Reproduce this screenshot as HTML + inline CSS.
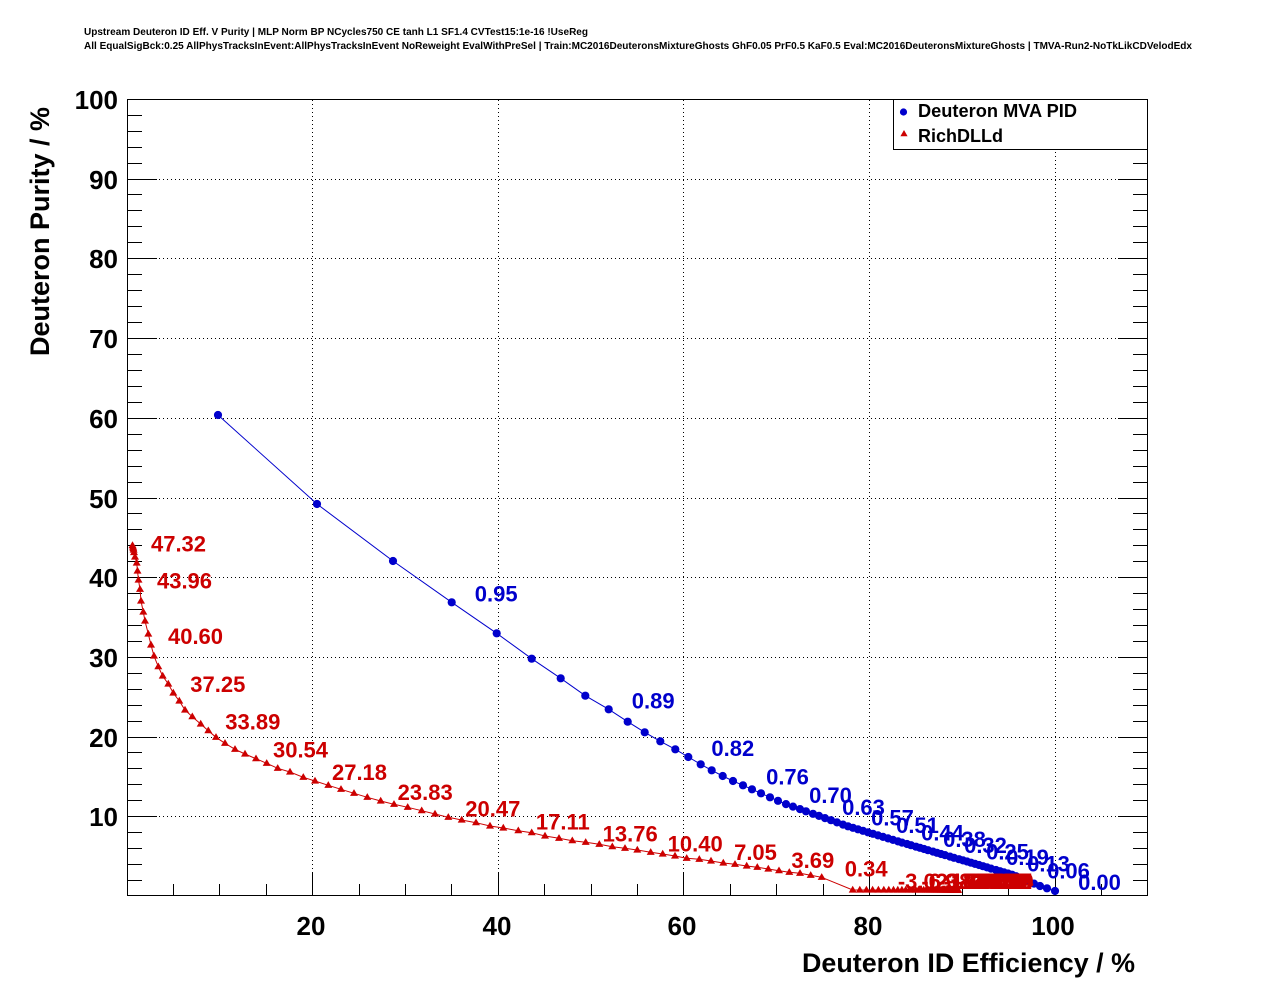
<!DOCTYPE html>
<html><head><meta charset="utf-8"><style>
html,body{margin:0;padding:0;background:#fff;overflow:hidden;}
svg{display:block;}
text{font-family:"Liberation Sans",Arial,Helvetica,sans-serif;font-weight:bold;}
</style></head><body>
<svg width="1276" height="996" viewBox="0 0 1276 996" xmlns="http://www.w3.org/2000/svg">
<defs>
<marker id="mc" markerUnits="userSpaceOnUse" markerWidth="10" markerHeight="10" refX="5" refY="5" overflow="visible"><circle cx="5" cy="5" r="4.1" fill="#0000cc"/></marker>
<marker id="mt" markerUnits="userSpaceOnUse" markerWidth="10" markerHeight="10" refX="5" refY="5" overflow="visible"><path d="M5,0.8 L9,7.6 L1,7.6 Z" fill="#cc0000"/></marker>
</defs>
<rect x="0" y="0" width="1276" height="996" fill="#fff"/>

<!-- titles -->
<text x="84" y="35" font-size="9.8" textLength="504" lengthAdjust="spacingAndGlyphs">Upstream Deuteron ID Eff. V Purity | MLP Norm BP NCycles750 CE tanh L1 SF1.4 CVTest15:1e-16 !UseReg</text>
<text x="84" y="49" font-size="9.8" textLength="1108" lengthAdjust="spacingAndGlyphs">All EqualSigBck:0.25 AllPhysTracksInEvent:AllPhysTracksInEvent NoReweight EvalWithPreSel | Train:MC2016DeuteronsMixtureGhosts GhF0.05 PrF0.5 KaF0.5 Eval:MC2016DeuteronsMixtureGhosts | TMVA-Run2-NoTkLikCDVelodEdx</text>

<!-- grid -->
<path fill="none" stroke="#000" stroke-width="1" stroke-dasharray="1 3" shape-rendering="crispEdges" d="M312.5,100V896 M498.5,100V896 M683.5,100V896 M869.5,100V896 M1055.5,100V896
M127,816.5H1148 M127,737.5H1148 M127,657.5H1148 M127,577.5H1148 M127,498.5H1148 M127,418.5H1148 M127,338.5H1148 M127,258.5H1148 M127,179.5H1148"/>

<!-- frame -->
<rect x="127.5" y="99.5" width="1020" height="796" fill="none" stroke="#000" stroke-width="1" shape-rendering="crispEdges"/>

<!-- ticks -->
<path fill="none" stroke="#000" stroke-width="1" shape-rendering="crispEdges" d="
M312.5,896V872 M498.5,896V872 M683.5,896V872 M869.5,896V872 M1055.5,896V872
M173.5,896V884 M219.5,896V884 M266.5,896V884 M359.5,896V884 M405.5,896V884 M451.5,896V884 M544.5,896V884 M591.5,896V884 M637.5,896V884 M730.5,896V884 M776.5,896V884 M823.5,896V884 M915.5,896V884 M962.5,896V884 M1008.5,896V884 M1101.5,896V884
M127,816.5H157 M127,737.5H157 M127,657.5H157 M127,577.5H157 M127,498.5H157 M127,418.5H157 M127,338.5H157 M127,258.5H157 M127,179.5H157
M127,880.5H142 M127,864.5H142 M127,848.5H142 M127,832.5H142 M127,800.5H142 M127,784.5H142 M127,768.5H142 M127,752.5H142 M127,721.5H142 M127,705.5H142 M127,689.5H142 M127,673.5H142 M127,641.5H142 M127,625.5H142 M127,609.5H142 M127,593.5H142 M127,561.5H142 M127,545.5H142 M127,529.5H142 M127,513.5H142 M127,482.5H142 M127,466.5H142 M127,450.5H142 M127,434.5H142 M127,402.5H142 M127,386.5H142 M127,370.5H142 M127,354.5H142 M127,322.5H142 M127,306.5H142 M127,290.5H142 M127,274.5H142 M127,242.5H142 M127,226.5H142 M127,210.5H142 M127,194.5H142 M127,163.5H142 M127,147.5H142 M127,131.5H142 M127,115.5H142
M1148,816.5H1118 M1148,737.5H1118 M1148,657.5H1118 M1148,577.5H1118 M1148,498.5H1118 M1148,418.5H1118 M1148,338.5H1118 M1148,258.5H1118 M1148,179.5H1118
M1148,880.5H1133 M1148,864.5H1133 M1148,848.5H1133 M1148,832.5H1133 M1148,800.5H1133 M1148,784.5H1133 M1148,768.5H1133 M1148,752.5H1133 M1148,721.5H1133 M1148,705.5H1133 M1148,689.5H1133 M1148,673.5H1133 M1148,641.5H1133 M1148,625.5H1133 M1148,609.5H1133 M1148,593.5H1133 M1148,561.5H1133 M1148,545.5H1133 M1148,529.5H1133 M1148,513.5H1133 M1148,482.5H1133 M1148,466.5H1133 M1148,450.5H1133 M1148,434.5H1133 M1148,402.5H1133 M1148,386.5H1133 M1148,370.5H1133 M1148,354.5H1133 M1148,322.5H1133 M1148,306.5H1133 M1148,290.5H1133 M1148,274.5H1133 M1148,242.5H1133 M1148,226.5H1133 M1148,210.5H1133 M1148,194.5H1133 M1148,163.5H1133 M1148,147.5H1133 M1148,131.5H1133 M1148,115.5H1133"/>

<!-- tick labels -->
<g font-size="26" fill="#000">
<text x="311" y="935" text-anchor="middle">20</text>
<text x="497" y="935" text-anchor="middle">40</text>
<text x="682" y="935" text-anchor="middle">60</text>
<text x="868" y="935" text-anchor="middle">80</text>
<text x="1053" y="935" text-anchor="middle">100</text>
<g text-anchor="end">
<text x="118" y="826">10</text>
<text x="118" y="747">20</text>
<text x="118" y="667">30</text>
<text x="118" y="587">40</text>
<text x="118" y="508">50</text>
<text x="118" y="428">60</text>
<text x="118" y="348">70</text>
<text x="118" y="268">80</text>
<text x="118" y="189">90</text>
<text x="118" y="109">100</text>
</g>
</g>

<!-- axis titles -->
<text x="802" y="972" font-size="27" textLength="333" lengthAdjust="spacingAndGlyphs">Deuteron ID Efficiency / %</text>
<text transform="translate(49,356) rotate(-90)" font-size="27" textLength="249" lengthAdjust="spacingAndGlyphs">Deuteron Purity / %</text>

<!-- blue series -->
<polyline fill="none" stroke="#0000cc" stroke-width="1" marker-start="url(#mc)" marker-mid="url(#mc)" marker-end="url(#mc)" points="218,415 317,504 393,561 451.7,602.3 496.7,633.3 531.7,658.7 560.7,678.3 585.3,695.7 608.7,709.3 627.7,721.7 644.7,732.3 660.3,741.3 675.3,749.3 688.3,757 700.7,764.3 711.7,770.3 722.7,776 733,781 743,785.3 752,789.3 761,793.3 770,797.3 778,800.8 786,804.1 793,806.6 800,809.1 806,811.3 813,813.8 819,815.9 825,818.1 831,820.2 837,822.4 843,824.6 848,826.3 853,827.8 858,829.3 863,830.8 868,832.3 873,833.8 878,835.4 883,836.9 888,838.4 893,839.9 898,841.4 902,842.6 907,844 911,845.2 916,846.7 920,847.8 924,849 928,850.2 933,851.6 937,852.8 941,854 945,855.1 950,856.6 954,857.8 959,859.2 963,860.4 967,861.5 971,862.7 975,863.9 979,865 983,866.2 987,867.4 991,868.6 996,870 1000,871.2 1004,872.4 1008,873.5 1012,874.7 1016,876.2 1020,877.8 1024,879.5 1029,881.5 1034,883.6 1040,886 1047,888.3 1055,891"/>
<g font-size="22" fill="#0000cc" text-anchor="middle">
<text x="496.2" y="601.3">0.95</text>
<text x="653.2" y="708.3">0.89</text>
<text x="732.8" y="756">0.82</text>
<text x="787.5" y="784.3">0.76</text>
<text x="830.5" y="803.1">0.70</text>
<text x="863.5" y="814.9">0.63</text>
<text x="892.5" y="825.3">0.57</text>
<text x="917.5" y="832.8">0.51</text>
<text x="942.5" y="840.4">0.44</text>
<text x="964.5" y="846.8">0.38</text>
<text x="985.5" y="853">0.32</text>
<text x="1007.5" y="859.4">0.25</text>
<text x="1027.5" y="865.2">0.19</text>
<text x="1048.5" y="871.4">0.13</text>
<text x="1068.5" y="878.5">0.06</text>
<text x="1099.5" y="890">0.00</text>
</g>

<!-- red series -->
<polyline fill="none" stroke="#cc0000" stroke-width="1" marker-start="url(#mt)" marker-mid="url(#mt)" marker-end="url(#mt)" points="132.5,545.5 133,547 133.3,548.5 133.6,550 134,552.5 135,557 136.7,563 137.5,571 138.5,580 140,589.3 141,601 143.3,612 145,621 148.3,634 151,645 154,656 158.3,666.7 162.7,676 168.3,684 173.3,693 179.3,701 185,710 192.3,716.7 200.7,724 208.3,730.7 216,737.3 225,743.3 235,749.3 245,754 256,758.7 266.7,763.3 277.7,768.3 290,772 303.3,777.3 315,781 328.3,785.3 341,789.3 354,793.3 367.3,797.3 380.7,801 394,804.3 407.7,807.3 421.7,810.7 435,814 448.3,817.3 461.7,820 476,822.7 490,826 503.3,828 518.3,830.7 531.7,832.7 545,836 559,838.3 572.3,840.7 585.7,842.3 599.3,844.3 612.3,846.7 625,848.3 637.3,850 650.7,852.3 662.7,854 675,856 686.7,858.3 699.3,859.3 711,861 723.3,863 735,864.3 746.7,866 757.3,867.3 768.3,869 779,870.7 789.3,872.3 800,873.3 810.7,875.3 821.7,877.3 852.7,890 859.8,890 866.4,890 872.6,890 878.4,890 883.8,890 888.8,890 893.5,890 897.8,890 901.9,890 905.7,890 909.3,890 912.6,890 915.7,890 918.5,890 921.2,890 923.7,890 926.1,890 928.3,890 930.3,890 932.2,890 934,890 935.6,890 937.2,890 938.6,890 939.9,890 941.2,890 942.4,890 943.4,890 944.5,890 945.4,890 946.3,890 947.1,890 947.9,890 948.6,890 949.3,890 949.9,890 950.5,890 951,890 951.5,890 952,890 952.5,890 952.9,890 953.3,890 953.6,890 953.9,890 954.3,890 954.6,890 954.8,890 955.1,890 955.3,890 955.5,890 955.7,890 955.9,890 956.1,890 956.3,890 956.4,890 956.6,890 956.7,890 956.8,890 957,890 957.1,890 957.2,890 957.3,890 957.4,890 957.5,890 957.6,890 957.7,890 957.8,890 957.9,890 958,890"/>
<g font-size="22" fill="#cc0000" text-anchor="middle">
<text x="178.5" y="551.5">47.32</text>
<text x="184.5" y="588.3">43.96</text>
<text x="195.5" y="644">40.60</text>
<text x="217.8" y="692">37.25</text>
<text x="252.8" y="729.7">33.89</text>
<text x="300.5" y="757.7">30.54</text>
<text x="359.5" y="780">27.18</text>
<text x="425.2" y="800">23.83</text>
<text x="492.8" y="816.3">20.47</text>
<text x="562.8" y="829.7">17.11</text>
<text x="630.2" y="841.3">13.76</text>
<text x="695.2" y="851.3">10.40</text>
<text x="755.5" y="860">7.05</text>
<text x="812.8" y="868">3.69</text>
<text x="866.2" y="876.3">0.34</text>
<text x="922.9" y="889">-3.02</text>
<text x="946.4" y="889">-6.38</text>
<text x="963" y="889">-9.73</text>
<text x="974.8" y="889">-13.09</text>
<text x="983.1" y="889">-16.44</text>
<text x="989" y="889">-19.80</text>
<text x="993.1" y="889">-23.15</text>
<text x="996" y="889">-26.51</text>
<text x="998.1" y="889">-29.87</text>
<text x="999.6" y="889">-33.22</text>
<text x="1000.6" y="889">-36.58</text>
<text x="1001.3" y="889">-39.93</text>
<text x="1001.9" y="889">-43.29</text>
<text x="1002.2" y="889">-46.64</text>
<text x="1002.5" y="889">-50.00</text>
</g>

<!-- legend -->
<rect x="893.5" y="99.5" width="254" height="50" fill="#fff" stroke="#000" stroke-width="1" shape-rendering="crispEdges"/>
<circle cx="903.5" cy="112" r="3.6" fill="#0000cc"/>
<path d="M904,130 L907.6,136.2 L900.4,136.2 Z" fill="#cc0000"/>
<text x="918" y="117" font-size="18" fill="#000" textLength="159" lengthAdjust="spacingAndGlyphs">Deuteron MVA PID</text>
<text x="918" y="142" font-size="18" fill="#000">RichDLLd</text>
</svg>
</body></html>
